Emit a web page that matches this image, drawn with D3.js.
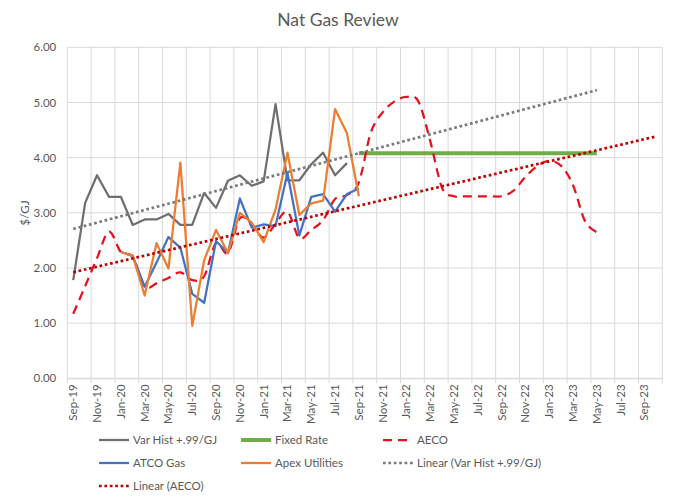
<!DOCTYPE html>
<html><head><meta charset="utf-8">
<script src="https://cdn.jsdelivr.net/npm/d3@7"></script>
<style>html,body{margin:0;padding:0;background:#fff;} svg{display:block;font-family:Lato,"Open Sans",sans-serif;}</style>
</head><body><svg id="chart" width="676" height="504"></svg>
<script>
// ---------- DATA ----------
const months = ["Sep-19","Oct-19","Nov-19","Dec-19","Jan-20","Feb-20","Mar-20","Apr-20","May-20","Jun-20","Jul-20","Aug-20","Sep-20","Oct-20","Nov-20","Dec-20","Jan-21","Feb-21","Mar-21","Apr-21","May-21","Jun-21","Jul-21","Aug-21","Sep-21","Oct-21","Nov-21","Dec-21","Jan-22","Feb-22","Mar-22","Apr-22","May-22","Jun-22","Jul-22","Aug-22","Sep-22","Oct-22","Nov-22","Dec-22","Jan-23","Feb-23","Mar-23","Apr-23","May-23","Jun-23","Jul-23","Aug-23","Sep-23","Oct-23"];
const tickLabels = ["Sep-19","Nov-19","Jan-20","Mar-20","May-20","Jul-20","Sep-20","Nov-20","Jan-21","Mar-21","May-21","Jul-21","Sep-21","Nov-21","Jan-22","Mar-22","May-22","Jul-22","Sep-22","Nov-22","Jan-23","Mar-23","May-23","Jul-23","Sep-23"];
const yTicks = [0,1,2,3,4,5,6];

const varHistStart = "Sep-19";
const varHist = [1.78,3.18,3.68,3.29,3.29,2.78,2.88,2.88,2.98,2.78,2.78,3.36,3.09,3.58,3.68,3.49,3.57,4.97,3.59,3.59,3.88,4.09,3.68,3.90];

const fixedStart = "Sep-21";
const fixedRate = [4.08,4.08,4.08,4.08,4.08,4.08,4.08,4.08,4.08,4.08,4.08,4.08,4.08,4.08,4.08,4.08,4.08,4.08,4.08,4.08,4.08];

const aecoStart = "Sep-19";
const aeco = [1.17,1.67,2.18,2.66,2.29,2.20,1.66,1.72,1.82,1.92,1.78,1.85,2.45,2.27,2.90,2.78,2.55,2.80,3.02,2.54,2.69,2.87,3.25,3.32,3.55,4.45,4.82,5.02,5.10,5.02,4.30,3.45,3.30,3.30,3.30,3.30,3.30,3.40,3.65,3.85,3.94,3.85,3.50,2.85,2.65];

const atcoStart = "Jan-20";
const atco = [2.29,2.22,1.66,2.10,2.56,2.37,1.53,1.37,2.49,2.27,3.26,2.73,2.79,2.76,3.72,2.59,3.29,3.34,3.02,3.34,3.44];

const apexStart = "Jan-20";
const apex = [2.29,2.22,1.50,2.45,1.99,3.91,0.95,2.14,2.69,2.27,3.00,2.82,2.47,3.06,4.09,2.96,3.17,3.22,4.88,4.44,3.30];

// trendline forecast-forward periods
const varHistForward = 21;
const aecoForward = 5;

// ---------- LAYOUT ----------
const plot = {left:67.3, right:662.3, top:47.3, bottom:378.3};
const svg = d3.select("#chart");
const x = d3.scaleBand().domain(months).range([plot.left, plot.right]).padding(0);
const bw = x.bandwidth();
const cx = i => x(months[0]) + bw * (i + 0.5);
const y = d3.scaleLinear().domain([0,6]).range([plot.bottom, plot.top]);

const gridColor = "#d9d9d9", textColor = "#595959";

// gridlines
const g = svg.append("g");
g.selectAll("line.h").data(yTicks).join("line")
  .attr("x1", plot.left).attr("x2", plot.right)
  .attr("y1", d => y(d)).attr("y2", d => y(d))
  .attr("stroke", gridColor).attr("stroke-width", 1);
const vPos = tickLabels.map(m => x(m)).concat([plot.right]);
g.selectAll("line.v").data(vPos).join("line")
  .attr("x1", d => d).attr("x2", d => d)
  .attr("y1", plot.top).attr("y2", plot.bottom + 5)
  .attr("stroke", gridColor).attr("stroke-width", 1);

// x axis
const xAxis = svg.append("g").attr("transform", `translate(0,${plot.bottom})`)
  .call(d3.axisBottom(x).tickValues(tickLabels).tickSize(0));
xAxis.select(".domain").attr("stroke", gridColor);
xAxis.selectAll("text")
  .attr("transform", "rotate(-90)")
  .attr("text-anchor", "end")
  .attr("x", -6).attr("y", 0).attr("dy", "0.35em")
  .attr("fill", textColor).style("font-size", "11.5px").style("font-family", "Lato");

// y axis
const yAxis = svg.append("g").attr("transform", `translate(${plot.left},0)`)
  .call(d3.axisLeft(y).tickValues(yTicks).tickFormat(d3.format(".2f")).tickSize(0).tickPadding(11));
yAxis.select(".domain").remove();
yAxis.selectAll("text").attr("fill", textColor).style("font-size", "11.5px").style("font-family", "Lato");

svg.append("text").attr("transform", "translate(29,213) rotate(-90)")
  .attr("text-anchor", "middle").attr("fill", textColor)
  .style("font-size", "11.5px").text("$/GJ");

svg.append("text").attr("x", 338).attr("y", 26).attr("text-anchor", "middle")
  .attr("fill", textColor).style("font-size", "17.5px").text("Nat Gas Review");

// ---------- SERIES ----------
function pts(values, start) {
  const s = months.indexOf(start);
  return values.map((v, k) => ({i: s + k, v}));
}
const line = d3.line().x(d => cx(d.i)).y(d => y(d.v));
const smooth = d3.line().x(d => cx(d.i)).y(d => y(d.v)).curve(d3.curveCatmullRom.alpha(0));

function trend(p, forward) {
  const n = p.length;
  const mx = d3.mean(p, d => d.i), my = d3.mean(p, d => d.v);
  const b = d3.sum(p, d => (d.i - mx) * (d.v - my)) / d3.sum(p, d => (d.i - mx) ** 2);
  const a = my - b * mx;
  const i0 = p[0].i, i1 = p[n - 1].i + forward;
  return [{i: i0, v: a + b * i0}, {i: i1, v: a + b * i1}];
}

const styles = {
  varHist: {stroke: "#6f6f6f", width: 2.25, dash: null},
  fixed: {stroke: "#70ad47", width: 4, dash: null},
  aeco: {stroke: "#e8111b", width: 2.25, dash: "9,6"},
  atco: {stroke: "#4472c4", width: 2.25, dash: null},
  apex: {stroke: "#ed7d31", width: 2.25, dash: null},
  trendVar: {stroke: "#7a7a7a", width: 2.7, dash: "2.7,2.7"},
  trendAeco: {stroke: "#c00000", width: 2.7, dash: "2.7,2.7"}
};

const sg = svg.append("g").attr("fill", "none").attr("stroke-linejoin", "round");
function draw(data, gen, st) {
  sg.append("path").datum(data).attr("d", gen)
    .attr("stroke", st.stroke).attr("stroke-width", st.width)
    .attr("stroke-dasharray", st.dash);
}
const pVar = pts(varHist, varHistStart), pAeco = pts(aeco, aecoStart);
draw(pVar, line, styles.varHist);
draw(pts(fixedRate, fixedStart), line, styles.fixed);
draw(pAeco, smooth, styles.aeco);
draw(pts(atco, atcoStart), line, styles.atco);
draw(pts(apex, apexStart), line, styles.apex);
draw(trend(pVar, varHistForward), line, styles.trendVar);
draw(trend(pAeco, aecoForward), line, styles.trendAeco);

// ---------- LEGEND ----------
const legendItems = [
  {name: "Var Hist +.99/GJ", st: styles.varHist},
  {name: "Fixed Rate", st: styles.fixed},
  {name: "AECO", st: styles.aeco},
  {name: "ATCO Gas", st: styles.atco},
  {name: "Apex Utilities", st: styles.apex},
  {name: "Linear (Var Hist +.99/GJ)", st: styles.trendVar},
  {name: "Linear (AECO)", st: styles.trendAeco}
];
const colX = [99, 241, 383], rowY = [440, 463, 486];
const lg = svg.append("g");
legendItems.forEach((it, k) => {
  const lx = colX[k % 3], ly = rowY[Math.floor(k / 3)];
  lg.append("line").attr("x1", lx).attr("x2", lx + 30).attr("y1", ly).attr("y2", ly)
    .attr("stroke", it.st.stroke).attr("stroke-width", it.st.width)
    .attr("stroke-dasharray", it.st.dash);
  lg.append("text").attr("x", lx + 34).attr("y", ly).attr("dy", "0.35em")
    .attr("fill", textColor).style("font-size", "11.5px").text(it.name);
});
</script></body></html>
